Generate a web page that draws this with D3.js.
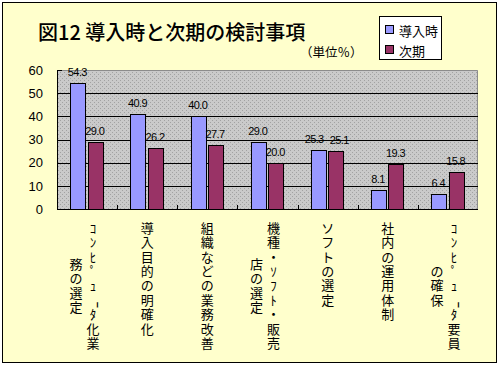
<!DOCTYPE html>
<html><head><meta charset="utf-8">
<script src="https://cdn.jsdelivr.net/npm/d3@7"></script>
<style>html,body{margin:0;padding:0;background:#fff;} svg{display:block;}</style>
</head><body>
<script>
// ---- data ----
const categories = ["コンピュータ化業務の選定","導入目的の明確化","組織などの業務改善","機種・ソフト・販売店の選定","ソフトの選定","社内の運用体制","コンピュータ要員の確保"];
const labelLines = [
  ["ｺﾝﾋﾟｭｰﾀ化業","務の選定"],
  ["導入目的の明確化"],
  ["組織などの業務改善"],
  ["機種・ｿﾌﾄ・販売","店の選定"],
  ["ソフトの選定"],
  ["社内の運用体制"],
  ["ｺﾝﾋﾟｭｰﾀ要員","の確保"]
];
const seriesNames = ["導入時","次期"];
const introValues = [54.3,40.9,40.0,29.0,25.3,8.1,6.4];
const nextValues  = [29.0,26.2,27.7,20.0,25.1,19.3,15.8];
const yTicks = [0,10,20,30,40,50,60];
const titleText = "図12 導入時と次期の検討事項";
const unitText = "（単位％）";
const colors = ["#9999ff","#993366"];

// ---- layout ----
const W = 500, H = 365;
const plot = {l:57, r:478, t:70, b:209};
const svg = d3.select("body").append("svg").attr("width",W).attr("height",H);
const cjk = "'Noto Sans CJK JP','Noto Sans CJK SC',sans-serif";
const num = "'Liberation Sans',Arial,sans-serif";

const defs = svg.append("defs");
const pat = defs.append("pattern").attr("id","stip").attr("width",4).attr("height",4).attr("patternUnits","userSpaceOnUse");
pat.append("rect").attr("width",4).attr("height",4).attr("fill","#cacaca");
pat.append("rect").attr("x",0).attr("y",0).attr("width",1).attr("height",1).attr("fill","#a2a2a2");
pat.append("rect").attr("x",2).attr("y",2).attr("width",1).attr("height",1).attr("fill","#a2a2a2");

// outer frame
svg.append("rect").attr("x",2.5).attr("y",2.5).attr("width",494).attr("height",360)
  .attr("fill","#ffffcc").attr("stroke","#000");

// scales
const x0 = d3.scaleBand().domain(categories).range([plot.l, plot.r]).paddingInner(0.444).paddingOuter(0.222);
const x1 = d3.scaleBand().domain(seriesNames).range([0, x0.bandwidth()]).paddingInner(0.08);
const y = d3.scaleLinear().domain([0,60]).range([plot.b, plot.t]);

// plot area
svg.append("rect").attr("x",plot.l).attr("y",plot.t).attr("width",plot.r-plot.l).attr("height",plot.b-plot.t)
  .attr("fill","url(#stip)");
svg.append("path").attr("d",`M${plot.l},${plot.t+0.5}H${plot.r-0.5}V${plot.b}`)
  .attr("fill","none").attr("stroke","#8c8c8c");

// gridlines
svg.append("g").selectAll("line").data(yTicks.filter(t=>t>0 && t<60)).join("line")
  .attr("x1",plot.l).attr("x2",plot.r).attr("y1",d=>Math.round(y(d))+0.5).attr("y2",d=>Math.round(y(d))+0.5)
  .attr("stroke","#000");

// y axis labels
const yAxis = svg.append("g").attr("transform",`translate(${plot.l},0)`)
  .call(d3.axisLeft(y).tickValues(yTicks).tickSize(0).tickPadding(14).tickFormat(d3.format("d")));
yAxis.select(".domain").remove();
yAxis.selectAll("text").attr("font-family",num).attr("font-size",13).attr("fill","#000");
// inner ticks
svg.append("g").selectAll("line").data(yTicks).join("line")
  .attr("x1",plot.l).attr("x2",plot.l+5).attr("y1",d=>Math.round(y(d))+0.5).attr("y2",d=>Math.round(y(d))+0.5)
  .attr("stroke","#000");

// bars + value labels
const series = [introValues, nextValues];
const gBars = svg.append("g");
const labelSel = [];
series.forEach((vals, si) => {
  gBars.selectAll(null).data(vals).join("rect")
    .attr("x",(d,i)=>Math.round(x0(categories[i]) + x1(seriesNames[si]))+0.5)
    .attr("y",d=>Math.round(y(d))+0.5)
    .attr("width",Math.round(x1.bandwidth())-1)
    .attr("height",d=>Math.round(y(0))-Math.round(y(d)))
    .attr("fill",colors[si]).attr("stroke","#000");
  labelSel.push(gBars.selectAll(null).data(vals).join("text")
    .attr("x",(d,i)=>x0(categories[i]) + x1(seriesNames[si]) + x1.bandwidth()/2 - 1)
    .attr("y",d=>y(d)-7)
    .attr("text-anchor","middle").attr("font-family",num).attr("font-size",11).attr("letter-spacing","-0.6")
    .text(d=>d3.format(".1f")(d)));
});
// push apart value labels of a category when they sit at similar heights and collide
const minGap = 6;
categories.forEach((c, i) => {
  const a = labelSel[0].nodes()[i], b = labelSel[1].nodes()[i];
  const ya = +a.getAttribute("y"), yb = +b.getAttribute("y");
  if (Math.abs(ya - yb) > 11) return;
  const xa = +a.getAttribute("x"), xb = +b.getAttribute("x");
  const wa = a.getComputedTextLength(), wb = b.getComputedTextLength();
  const deficit = (xa + wa/2 + minGap) - (xb - wb/2);
  if (deficit > 0) {
    a.setAttribute("x", xa - deficit/2);
    b.setAttribute("x", xb + deficit/2);
  }
});

// axes lines
svg.append("line").attr("x1",plot.l+0.5).attr("x2",plot.l+0.5).attr("y1",plot.t).attr("y2",plot.b+1).attr("stroke","#000");
svg.append("line").attr("x1",plot.l).attr("x2",plot.r).attr("y1",plot.b+0.5).attr("y2",plot.b+0.5).attr("stroke","#000");
// x ticks at category boundaries (inside)
const gap = (x0.step()-x0.bandwidth())/2;
svg.append("g").selectAll("line").data(categories.slice(1)).join("line")
  .attr("x1",d=>Math.round(x0(d)-gap)+0.5).attr("x2",d=>Math.round(x0(d)-gap)+0.5)
  .attr("y1",plot.b-4).attr("y2",plot.b).attr("stroke","#000");

// category labels (vertical, one text element per column, per-glyph positions)
const cell = 14.4, labelTop = plot.b + 11, colGap = 17;
const gLab = svg.append("g").attr("font-family",cjk).attr("font-size",13).attr("fill","#000");
labelLines.forEach((lines, i) => {
  const cx = x0(categories[i]) + x0.bandwidth()/2;
  const maxLen = d3.max(lines, l => Array.from(l).length);
  lines.forEach((line, j) => {
    const chars = Array.from(line);
    const colX = lines.length > 1 ? cx + 6 - colGap*j : cx;
    const off = (maxLen - chars.length)/2;
    const xs = [], ys = [], rs = [];
    chars.forEach((ch, k) => {
      const cy = labelTop + (off + k + 0.5)*cell;
      const isBar = (ch === "ｰ" || ch === "ー");
      xs.push((colX + (isBar ? 3.2 : 0)).toFixed(2));
      ys.push((cy - (isBar ? 3.2 : 0)).toFixed(2));
      rs.push(isBar ? 90 : 0);
    });
    gLab.append("text").attr("x",xs.join(" ")).attr("y",ys.join(" ")).attr("rotate",rs.join(" "))
      .attr("text-anchor","middle").attr("dominant-baseline","central").text(line);
  });
});

// title
svg.append("text").attr("x",38).attr("y",40).attr("font-family",cjk).attr("font-size",20)
  .attr("font-weight",500).text(titleText);
svg.append("text").attr("x",300).attr("y",57).attr("font-family",cjk).attr("font-size",12.5).text(unitText);

// legend
const lg = svg.append("g");
lg.append("rect").attr("x",379.5).attr("y",16.5).attr("width",62).attr("height",43).attr("fill","#fff").attr("stroke","#000");
seriesNames.forEach((s, i) => {
  lg.append("rect").attr("x",385.5).attr("y",25.5+i*20).attr("width",8).attr("height",8)
    .attr("fill",colors[i]).attr("stroke","#000");
  lg.append("text").attr("x",399).attr("y",30+i*20).attr("dominant-baseline","central")
    .attr("font-family",cjk).attr("font-size",13).text(s);
});
</script>
</body></html>
